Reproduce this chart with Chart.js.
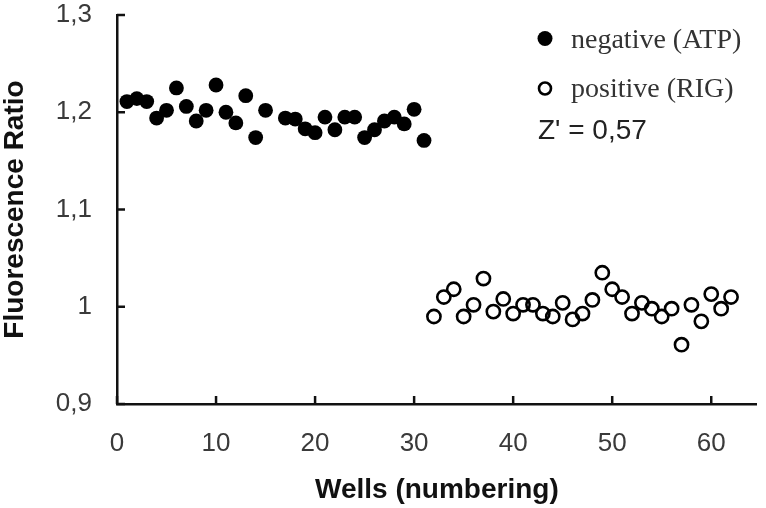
<!DOCTYPE html>
<html>
<head>
<meta charset="utf-8">
<script src="https://cdn.jsdelivr.net/npm/chart.js@4/dist/chart.umd.min.js"></script>
<style>
  html, body { margin: 0; padding: 0; background: #ffffff; }
  #wrap { width: 766px; height: 508px; }
</style>
</head>
<body>
<div id="wrap"><canvas id="c" width="766" height="508"></canvas></div>
<script>
// ---- data ----
const negLabel = 'negative (ATP)';
const posLabel = 'positive (RIG)';
const zText = "Z' = 0,57";
const negWells = [1,2,3,4,5,6,7,8,9,10,11,12,13,14,15,17,18,19,20,21,22,23,24,25,26,27,28,29,30,31];
const negValues = [1.211,1.214,1.211,1.194,1.202,1.225,1.206,1.191,1.202,1.228,1.200,1.189,1.217,1.174,1.202,
                   1.194,1.193,1.183,1.179,1.195,1.182,1.195,1.195,1.174,1.182,1.191,1.195,1.188,1.203,1.171];
const posWells = [32,33,34,35,36,37,38,39,40,41,42,43,44,45,46,47,48,49,50,51,52,53,54,55,56,57,58,59,60,61,62];
const posValues = [0.990,1.010,1.018,0.990,1.002,1.029,0.995,1.008,0.993,1.002,1.002,0.993,0.990,1.004,0.987,
                   0.993,1.007,1.035,1.018,1.010,0.993,1.004,0.998,0.990,0.998,0.961,1.002,0.985,1.013,0.998,1.010];
const xTickLabels = ['0','10','20','30','40','50','60'];
const yTickLabels = ['0,9','1','1,1','1,2','1,3'];
const xTitle = 'Wells (numbering)';
const yTitle = 'Fluorescence Ratio';

const toPoints = (xs, ys) => xs.map((x, i) => ({x: x, y: ys[i]}));

const tickFont = {family: "'Liberation Sans', Arial, sans-serif", size: 26};
const titleFont = {family: "'Liberation Sans', Arial, sans-serif", size: 28, weight: 'bold', lineHeight: 1};

// inward tick marks, placed through the library's scales
const innerTicks = {
  id: 'innerTicks',
  afterDraw(chart) {
    const ctx = chart.ctx;
    const ca = chart.chartArea;
    const xs = chart.scales.x, ys = chart.scales.y;
    ctx.save();
    ctx.strokeStyle = '#111';
    ctx.lineWidth = 2.5;
    ys.ticks.forEach(t => {
      const y = ys.getPixelForValue(t.value);
      ctx.beginPath(); ctx.moveTo(ca.left, y); ctx.lineTo(ca.left + 8, y); ctx.stroke();
    });
    xs.ticks.forEach(t => {
      const x = xs.getPixelForValue(t.value);
      ctx.beginPath(); ctx.moveTo(x, ca.bottom); ctx.lineTo(x, ca.bottom - 8); ctx.stroke();
    });
    ctx.restore();
  }
};

// legend and Z' annotation
const legendBox = {
  id: 'legendBox',
  afterDraw(chart) {
    const ctx = chart.ctx;
    ctx.save();
    ctx.fillStyle = '#000';
    ctx.beginPath(); ctx.arc(545, 38.5, 7.5, 0, Math.PI * 2); ctx.fill();
    ctx.strokeStyle = '#000'; ctx.lineWidth = 2.6; ctx.fillStyle = '#fff';
    ctx.beginPath(); ctx.arc(545, 88.5, 6, 0, Math.PI * 2); ctx.fill(); ctx.stroke();
    ctx.fillStyle = '#333';
    ctx.textAlign = 'left';
    ctx.textBaseline = 'alphabetic';
    ctx.font = "28px 'Liberation Serif', 'Times New Roman', serif";
    ctx.fillText(chart.data.datasets[0].label, 571, 48);
    ctx.fillText(chart.data.datasets[1].label, 571, 96.5);
    ctx.fillStyle = '#222';
    ctx.font = "28px 'Liberation Sans', Arial, sans-serif";
    ctx.fillText(zText, 538, 138.5);
    ctx.restore();
  }
};

new Chart(document.getElementById('c'), {
  type: 'scatter',
  data: {
    datasets: [
      { label: negLabel, data: toPoints(negWells, negValues), pointRadius: 7.4, pointHoverRadius: 7.4,
        pointBackgroundColor: '#000', pointBorderColor: '#000', pointBorderWidth: 0, clip: false },
      { label: posLabel, data: toPoints(posWells, posValues), pointRadius: 6.6, pointHoverRadius: 6.6,
        pointBackgroundColor: 'rgba(255,255,255,0)', pointBorderColor: '#000', pointBorderWidth: 2.6, clip: false }
    ]
  },
  options: {
    responsive: false,
    animation: false,
    events: [],
    layout: { padding: { top: 15, right: 5, left: 0, bottom: 0 } },
    plugins: { legend: { display: false }, tooltip: { enabled: false } },
    scales: {
      x: {
        type: 'linear', min: 0, max: 64.6,
        ticks: { stepSize: 10, includeBounds: false, font: tickFont, color: '#3a3a3a', padding: 24, maxRotation: 0,
                 callback: (v, i) => xTickLabels[i] },
        grid: { display: true, drawOnChartArea: false, drawTicks: false },
        border: { display: true, color: '#111', width: 2.5 },
        title: { display: true, text: xTitle, font: titleFont, color: '#111', padding: { top: 0, bottom: 4 } },
        afterFit: (s) => { s.height = 104; s.paddingLeft = 0; s.paddingRight = 0; }
      },
      y: {
        type: 'linear', min: 0.9, max: 1.3,
        ticks: { stepSize: 0.1, font: tickFont, color: '#3a3a3a', padding: 25,
                 callback: (v, i) => yTickLabels[i] },
        grid: { display: true, drawOnChartArea: false, drawTicks: false },
        border: { display: true, color: '#111', width: 2.5 },
        title: { display: true, text: yTitle, font: titleFont, color: '#111', padding: { top: 1, bottom: 0 } },
        afterFit: (s) => { s.width = 117; s.paddingTop = 0; s.paddingBottom = 0; }
      }
    }
  },
  plugins: [innerTicks, legendBox]
});
</script>
</body>
</html>
